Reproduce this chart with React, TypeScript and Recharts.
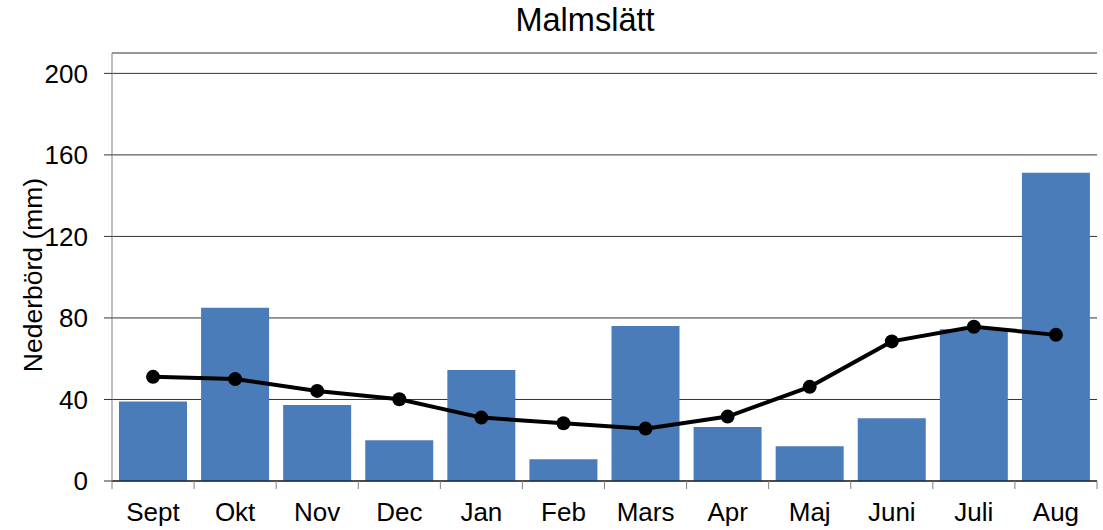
import { Bar, CartesianGrid, ComposedChart, Line, XAxis, YAxis } from "recharts";

document.body.style.margin = "0";

const months = ["Sept", "Okt", "Nov", "Dec", "Jan", "Feb", "Mars", "Apr", "Maj", "Juni", "Juli", "Aug"];
const precip = [39, 85, 37.3, 20, 54.5, 10.7, 76, 26.5, 17, 30.8, 74.5, 151.2];
const normal = [51.1, 50, 44.2, 40.1, 31.1, 28.3, 25.7, 31.6, 46.2, 68.5, 75.7, 71.7];
const yTicks = [0, 40, 80, 120, 160, 200];

const FONT = '"Liberation Sans", Arial, sans-serif';
const W = 1103;
const H = 530;
const M = { top: 53, right: 6, left: 0, bottom: 0 };
const Y_W = 112;
const STEP = (W - M.right - Y_W) / months.length;

const data = months.map((m, i) => ({ month: m, precip: precip[i], normal: normal[i] }));

function MonthTick(props: any) {
  const { x, y, payload, index } = props;
  const left = x - STEP / 2;
  return (
    <g>
      <line x1={left} y1={y} x2={left} y2={y + 8} stroke="#808080" />
      {index === months.length - 1 && (
        <line x1={x + STEP / 2} y1={y} x2={x + STEP / 2} y2={y + 8} stroke="#808080" />
      )}
      <text x={x} y={y + 40} textAnchor="middle" fontSize={26} fontFamily={FONT} fill="#000">
        {payload.value}
      </text>
    </g>
  );
}

export default function App() {
  return (
    <div style={{ position: "relative", width: W, height: H, fontFamily: FONT }}>
      <div
        style={{
          position: "absolute",
          top: 4,
          left: 0,
          width: 1170,
          textAlign: "center",
          fontSize: 32.5,
          lineHeight: "33px",
          color: "#000",
        }}
      >
        Malmslätt
      </div>
      <ComposedChart width={W} height={H} data={data} margin={M}>
        <CartesianGrid vertical={false} stroke="#333" />
        <XAxis
          dataKey="month"
          height={49}
          interval={0}
          tickLine={false}
          tickSize={0}
          tickMargin={0}
          axisLine={{ stroke: "#000" }}
          tick={<MonthTick />}
        />
        <YAxis
          width={Y_W}
          domain={[0, 210]}
          ticks={yTicks}
          interval={0}
          tickSize={8}
          tickMargin={16}
          tickLine={{ stroke: "#333" }}
          axisLine={{ stroke: "#808080" }}
          tick={{ fill: "#000", fontSize: 26, fontFamily: FONT }}
          label={{
            content: (p: any) => {
              const vb = p.viewBox;
              const cy = vb.y + vb.height / 2 + 8;
              return (
                <text
                  x={42}
                  y={cy}
                  transform={`rotate(-90, 42, ${cy})`}
                  textAnchor="middle"
                  fontSize={26.5}
                  fontFamily={FONT}
                  fill="#000"
                >
                  Nederbörd (mm)
                </text>
              );
            },
          }}
        />
        <Bar dataKey="precip" fill="#4A7CBA" barSize={68} isAnimationActive={false} />
        <Line
          dataKey="normal"
          stroke="#000"
          strokeWidth={4}
          dot={{ r: 7, fill: "#000", stroke: "#000", strokeWidth: 0 }}
          activeDot={false}
          isAnimationActive={false}
        />
      </ComposedChart>
    </div>
  );
}
